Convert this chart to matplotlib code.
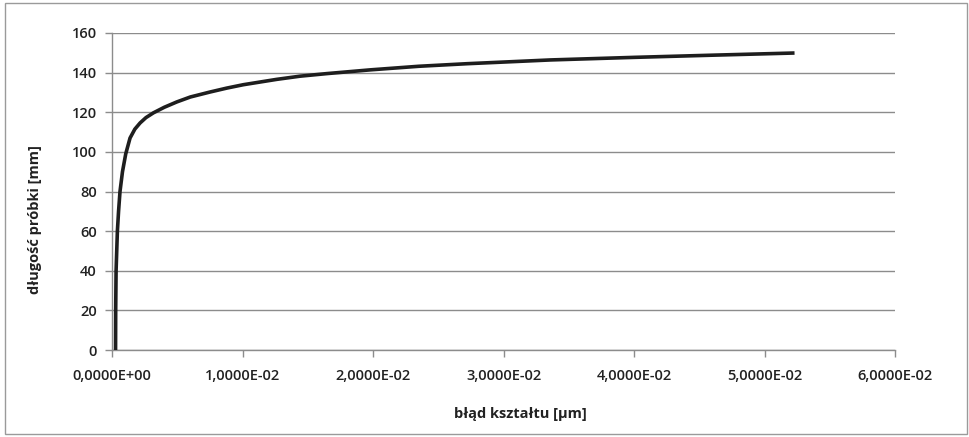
import numpy as np
import matplotlib
matplotlib.use('Agg')
import matplotlib.pyplot as plt
from matplotlib.ticker import FuncFormatter, MultipleLocator
from matplotlib.patches import Rectangle

# Dane
blad_ksztaltu = [0.00027, 0.00028, 0.00031, 0.00041, 0.00050, 0.00061, 0.00080, 0.00105,
                 0.00138, 0.00175, 0.00215, 0.00260, 0.00317, 0.00400, 0.00496, 0.00600,
                 0.00750, 0.00880, 0.01006, 0.01262, 0.01440, 0.01645, 0.01980, 0.02350,
                 0.02720, 0.03360, 0.04000, 0.04600, 0.05230]
dlugosc_probki = [0, 20, 40, 60, 70, 80, 90, 99,
                  107, 111.5, 114.6, 117.3, 119.7, 122.5, 125.2, 127.7,
                  130.2, 132.2, 133.9, 136.6, 138.2, 139.5, 141.4, 143.2,
                  144.5, 146.4, 147.7, 148.8, 149.9]

fonte = ['Open Sans', 'DejaVu Sans']
plt.rcParams['font.family'] = fonte

fig = plt.figure(figsize=(9.7, 4.37), dpi=100)
ax = fig.add_axes([0.1155, 0.199, 0.8072, 0.7255])

# ramka wokół całego wykresu
fig.patches.append(Rectangle((0.005, 0.008), 0.992, 0.985, transform=fig.transFigure,
                             fill=False, edgecolor='#9a9a9a', linewidth=1.0))

ax.plot(blad_ksztaltu, dlugosc_probki, color='#1e1e1e', linewidth=2.6,
        solid_capstyle='butt', solid_joinstyle='round', zorder=3)

ax.set_xlim(0, 0.06)
ax.set_ylim(0, 160)
ax.xaxis.set_major_locator(MultipleLocator(0.01))
ax.yaxis.set_major_locator(MultipleLocator(20))
ax.xaxis.set_major_formatter(FuncFormatter(lambda v, p: f'{v:.4E}'.replace('.', ',')))

ax.grid(axis='y', color='#8c8c8c', linewidth=1.0)
ax.set_axisbelow(True)
for s in ['top', 'right']:
    ax.spines[s].set_visible(False)
for s in ['left', 'bottom']:
    ax.spines[s].set_color('#8c8c8c')
    ax.spines[s].set_linewidth(1.0)

ax.tick_params(axis='both', colors='#8c8c8c', length=5, width=1.0,
               labelcolor='#222222', labelsize=10.5)
for lab in ax.get_xticklabels() + ax.get_yticklabels():
    lab.set_fontweight('semibold')
ax.tick_params(axis='x', pad=9)
ax.tick_params(axis='y', pad=6)

ax.set_xlabel('błąd kształtu [µm]', fontsize=10.5, fontweight='bold', color='#222222')
ax.set_ylabel('długość próbki [mm]', fontsize=10.5, fontweight='bold', color='#222222')
ax.xaxis.set_label_coords(0.521, -0.18)
ax.yaxis.set_label_coords(-0.09, 0.41)

fig.savefig('out.png', dpi=100, facecolor='white')
